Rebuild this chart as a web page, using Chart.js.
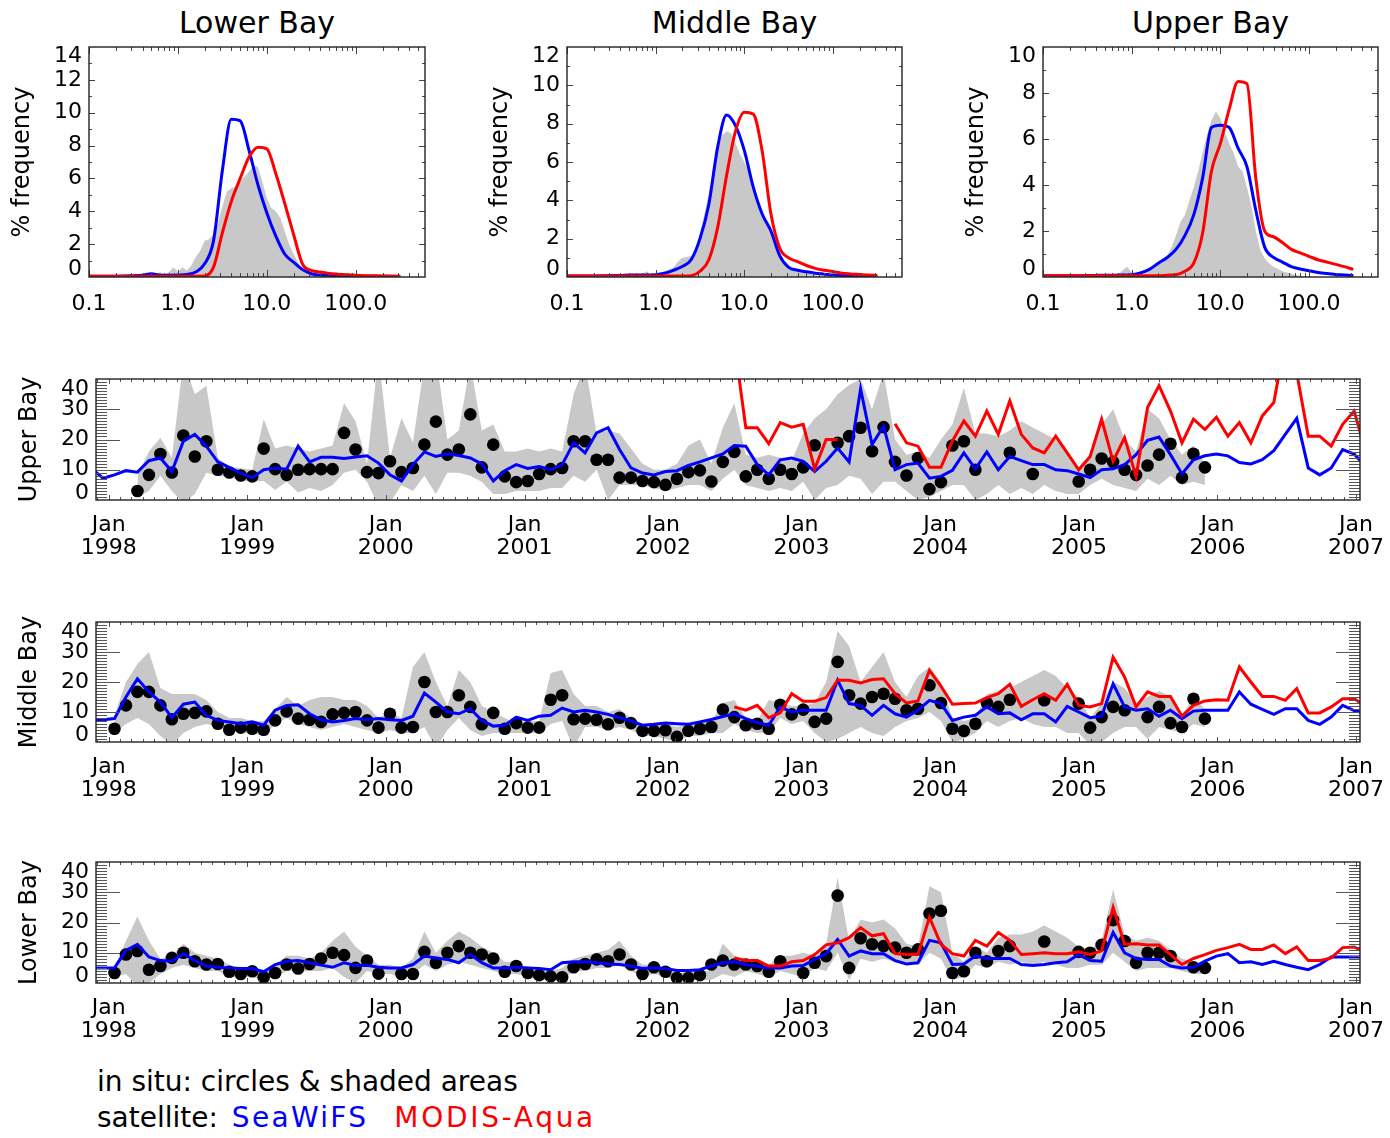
<!DOCTYPE html>
<html>
<head>
<meta charset="utf-8">
<script src="https://cdn.jsdelivr.net/npm/chart.js@4.4.1/dist/chart.umd.min.js"></script>
<style>
  html, body { margin: 0; padding: 0; background: #fff; }
  body { width: 1390px; height: 1138px; position: relative; overflow: hidden;
         font-family: "DejaVu Sans", sans-serif; color: #000; }
  canvas { position: absolute; }
  .panel-title { position: absolute; top: 5px; font-size: 30px; line-height: 36px;
                 white-space: nowrap; transform: translateX(-50%); }
  .legend { position: absolute; left: 97px; font-size: 28px; line-height: 36px; white-space: nowrap; }
  .sw { color: #0000ff; letter-spacing: 2.3px; margin-left: 5px; }
  .ma { color: #ff0000; letter-spacing: 2.7px; margin-left: 26px; }
</style>
</head>
<body>
<div class="panel-title" style="left:257px">Lower Bay</div>
<div class="panel-title" style="left:734.5px">Middle Bay</div>
<div class="panel-title" style="left:1210.5px">Upper Bay</div>
<div class="legend" style="top:1064px">in situ: circles &amp; shaded areas</div>
<div class="legend" style="top:1100px">satellite: <span class="sw">SeaWiFS</span><span class="ma">MODIS-Aqua</span></div>

<script>
// ---------------------------------------------------------------------------
// Chlorophyll frequency distributions (% frequency per log10 bin)
// Lines are sampled every 0.1 in log10(chl) from 0.1 to ~316 mg m^-3,
// the in situ histogram every 0.05 in log10(chl) from 0.5 to 100.
// ---------------------------------------------------------------------------
const LOWER_HIST_SEAWIFS = [0.05,0.05,0.05,0.05,0.06,0.08,0.1,0.2,0.1,0.1,
  0.12,0.15,0.3,0.8,2.2,6.5,9.6,9.5,7.7,5.6,
  3.9,2.5,1.4,0.9,0.45,0.2,0.12,0.1,0.08,0.07,
  0.06,0.05,0.05,0.05,0.05,0.05];
const LOWER_HIST_MODIS = [0.05,0.05,0.05,0.05,0.05,0.05,0.05,0.05,0.05,0.05,
  0.05,0.05,0.05,0.06,0.6,2.7,4.6,6.0,7.3,7.9,
  7.8,6.3,4.5,2.6,0.8,0.4,0.3,0.22,0.17,0.13,
  0.1,0.08,0.07,0.06,0.05,0.05];
const LOWER_HIST_INSITU = [0,0.1,0.3,0.1,0.3,0.6,0.3,0.6,0.4,0.7,
  1.2,1.6,2.2,2.3,2.6,3.3,4.3,5.2,5.4,5.5,
  5.8,6.1,6.4,6.8,6.7,5.8,4.8,4.2,4.0,3.6,
  2.8,2.0,1.4,0.9,0.5,0.25,0.1,0.05,0,0,
  0,0,0,0,0,0,0];

const MIDDLE_HIST_SEAWIFS = [0.05,0.05,0.05,0.05,0.06,0.08,0.08,0.1,0.1,0.1,
  0.12,0.2,0.35,0.55,0.9,2.0,3.8,6.8,8.45,7.9,
  6.6,4.7,3.3,2.4,1.1,0.5,0.35,0.27,0.2,0.15,
  0.1,0.08,0.07,0.06,0.05,0.05];
const MIDDLE_HIST_MODIS = [0.05,0.05,0.05,0.05,0.05,0.05,0.05,0.05,0.05,0.05,
  0.05,0.05,0.05,0.05,0.07,0.3,0.9,2.6,5.3,7.6,
  8.6,8.5,6.6,3.3,1.5,1.0,0.8,0.6,0.45,0.35,
  0.28,0.2,0.16,0.13,0.1,0.08];
const MIDDLE_HIST_INSITU = [0,0.02,0.05,0.15,0.3,0.1,0.15,0.2,0.3,0.4,
  0.5,0.8,1.0,1.05,1.1,1.5,2.3,3.3,4.4,5.8,
  6.7,7.4,7.6,7.5,7.0,6.4,6.0,5.5,4.7,4.0,
  3.4,2.9,2.3,1.9,1.3,0.8,0.5,0.35,0.3,0.25,
  0.2,0.15,0.1,0.07,0.05,0.02,0];

const UPPER_HIST_SEAWIFS = [0.05,0.05,0.05,0.05,0.05,0.06,0.07,0.08,0.08,0.09,
  0.1,0.18,0.33,0.6,0.85,1.2,1.8,2.7,4.3,6.5,
  6.6,6.5,5.6,4.8,2.9,1.3,0.85,0.65,0.45,0.35,
  0.27,0.2,0.15,0.11,0.09,0.07];
const UPPER_HIST_MODIS = [0.05,0.05,0.05,0.05,0.05,0.05,0.05,0.05,0.05,0.05,
  0.05,0.05,0.05,0.05,0.08,0.1,0.25,0.6,1.9,4.6,
  5.8,7.3,8.5,8.4,4.3,2.0,1.75,1.5,1.2,1.05,
  0.9,0.75,0.65,0.55,0.45,0.33];
const UPPER_HIST_INSITU = [0,0.02,0.05,0.1,0.3,0.45,0.2,0.2,0.25,0.3,
  0.4,0.5,0.6,0.7,0.9,1.3,1.8,2.4,2.7,3.3,
  3.9,4.6,5.4,6.2,6.8,7.2,6.9,6.3,5.8,5.4,
  4.8,4.6,3.9,3.1,2.0,1.2,0.8,0.6,0.45,0.35,
  0.25,0.2,0.15,0.1,0.05,0.02,0];

const HIST_X_TICKS = [0.1, 1, 10, 100];

// ---------------------------------------------------------------------------
// Monthly composites (chl, mg m^-3). Satellite series run from the Nov 1997
// composite (index -2) to the Jan 2007 composite (index 109); MODIS-Aqua starts
// with the Jul 2002 composite (index 54); in situ values cover indices 0..95.
// ---------------------------------------------------------------------------
const UPPER_SEAWIFS = [
  10.5, 7.2,
  8.3, 9.7, 9.2, 13, 13.9, 9.4, 19.4, 21.7, 17.8, 12.6, 10.8, 8.9,
  7.4, 10, 10.6, 10.2, 17.8, 12.6, 14.1, 14.1, 13.7, 14.2, 14.6, 12.2,
  8.3, 6.3, 11.7, 15.9, 14.4, 15.3, 14.7, 13.9, 11.9, 6.3, 9.7, 11.7,
  10.4, 11.1, 10, 11.7, 18.9, 15.6, 22.2, 23.9, 16.7, 10.6, 8.9, 8.3,
  9.4, 9.7, 11.4, 12.6, 13.9, 15.2, 18, 17.8, 11.7, 8.3, 13.3, 13.9,
  12.8, 9.4, 12.8, 17.2, 12.6, 36.7, 18.3, 24.4, 10, 11.7, 12.2, 7.2,
  7.8, 9.8, 15.6, 10.3, 15.9, 10, 14.4, 13, 11.7, 11.7, 10, 9.7,
  8.6, 7.4, 10, 10.3, 11.7, 15, 19.7, 20.8, 15, 8.6, 13.3, 14.6,
  15.2, 14.6, 12.4, 11.9, 13.3, 16.3, 21.7, 27, 10.6, 8.3, 10.6, 16.7,
  15.2, 11
];
const UPPER_MODIS = [
  52, 23.9, 23.9, 18.6, 25.6, 24.1,
  25, 10.2, 20, 20, null, null, null, null, 25.2, 18.9, 17.8, 10.8,
  10.8, 19.5, 26.1, 21.1, 29.4, 21.7, 32.8, 21.7, 17.2, 15.6, 21.1, 15.6,
  10, 14.4, 26.7, 12.8, 20.6, 7.8, 30.6, 37.8, 29.4, 18.9, 26.7, 23.3,
  27.4, 21.1, 25.6, 18.9, 27.8, 32.2, 53, 42, 21.1, 21.1, 17.8, 25,
  29.4, 16
];
const UPPER_INSITU = [
  null, null, 3.0, 8.3, 15.2, 9.1, 21.3, 14.4, 19.4, 10, 9.1, 8.1,
  7.8, 17, 10.2, 8.3, 10, 10.2, 10.2, 10.2, 22.2, 16.7, 9.2, 8.9,
  12.8, 9.2, 10.6, 18.3, 25.9, 15, 16.7, 28.3, 10.8, 18.3, 7.8, 5.9,
  6.3, 8.6, 10.2, 10.6, 19.4, 19.4, 13.3, 13.3, 7.4, 7.4, 6.3, 5.9,
  5, 7, 9.2, 9.8, 6.1, 12.6, 15.9, 7.8, 10, 7, 10, 8.6,
  10.8, 18.1, null, 18.9, 21.1, 23.9, 16.1, 24.1, 12.6, 8.1, 13.9, 3.6,
  5.9, 18, 19.4, 10, null, null, 15.6, null, 8.6, null, null, null,
  6.1, 10, 13.7, 12.6, 10, 8.3, 11.4, 15, 18.6, 7.4, 15.3, 10.8
];
const UPPER_INSITU_MAX = [
  null, null, 8, 16, 20.6, 14, 46, 35, 37.8, 14, 11, 10.5,
  10, 26.7, 17, 18, 17, 16, 17, 18, 32, 26, 12, 48,
  14, 27, 19, 45, 48, 20, 23, 45, 23, 25, 16, 16,
  17, 16, 17, 16, 35, 45, 22, 23, 22, 17, 12, 10,
  10, 12, 18, 20, 12, 24, 32, 15, 14, 15, 14, 13,
  22, 27, 30, 35, 38, 40, 30, 42, 20, 15, 16, 14,
  20, 25, 37, 22, 22, 21, 23, 26, 24, 22, 20, 16,
  10, 14, 25, 30, 20, 16, 30, 27, 20, 15, 18, 12
];
const UPPER_INSITU_MIN = [
  null, null, 1, 3, 8, 3, -1, 2, 9, 8, 7.5, 6.5,
  6, 6.3, 3.3, 6, 2.5, 4, 3, 5, 9, 10, 6, -2,
  -1, 5, 3, 8, 2, 9, 9, 8, 6, 2, 2, 3,
  3, 3, 4, 4, 8, 6, 10, 0, 5, 5, 5, 4,
  3, 4, 5, 5, 3, 7, 10, 5, 4, 3, 4, 3,
  6, 0, 4, 5, 8, 7, 2, 6, 6, 3, 0, 1,
  3, 5, 5, 0, 2, 5, 2, 4, 2, 5, 3, 2,
  2, 5, 7, 5, 4, 3, 7, 5, 8, 5, 6, 5
];

const MIDDLE_SEAWIFS = [
  7.4, 7.4,
  7.8, 15, 21.1, 16.7, 13.3, 8.1, 12.6, 13.3, 8.9, 7.2, 6.7, 6.1,
  6.7, 5.6, 10.6, 12.2, 12.4, 9.4, 7.4, 6.7, 7.2, 7.8, 7.4, 7.8,
  7.4, 7.2, 8.6, 16.3, 13.3, 10, 9.4, 11.1, 7.2, 5.3, 5.6, 8.3,
  7.2, 8.6, 8.9, 11.3, 10, 10.6, 10, 9.2, 8.1, 7, 5.6, 5.9,
  6.3, 6.1, 5.9, 6.7, 7.5, 8.5, 9.4, 7.8, 6.5, 5.6, 11.7, 10,
  10.6, 10.6, 10.6, 20.6, 12.8, 12.2, 8.9, 12.2, 9.4, 8.3, 10.6, 13.9,
  12.8, 7.2, 8.3, 8.9, 11.7, 9.4, 9.7, 7.4, 9.4, 9.4, 6.7, 11.9,
  10, 8.1, 8.6, 19.4, 11.7, 10.6, 11.1, 8.6, 10.6, 7.8, 10.3, 10.6,
  10.6, 10.6, 16.7, 12.6, 10.9, 9.2, 11.1, 11.1, 7.2, 5.9, 8.3, 12.2,
  10.5, 9.5
];
const MIDDLE_MODIS = [
  11.7, 10.6, 12.2, 8.1, 9.7, 16.1,
  13.6, 13.6, 14.8, 20.6, 20.6, 19.7, 20.8, 21.1, 16.1, 13, 13.7, 23.9,
  18.6, 12.6, 12.8, 13, 14.8, 16.1, 19.2, 11.9, 14.1, 16.1, 13.9, 19.2,
  12.2, 11.7, 12.8, 28.3, 21.7, 11.7, 16.7, 15.2, 15.2, 8.6, 12.2, 13.7,
  14.1, 13.9, 25, 20, 15.2, 15.2, 13.9, 17.8, 9.7, 9.7, 11.7, 14.4,
  14.4, 12
];
const MIDDLE_INSITU = [
  4.4, 12.2, 16.7, 16.7, 12.2, 7.6, 9.4, 9.7, 10.2, 6.1, 4.1, 4.8,
  4.4, 4.1, 7.2, 10.2, 7.8, 7.4, 6.7, 9.2, 9.7, 10, 7.2, 4.8,
  9.4, 4.8, 5, 20, 10, 10, 15.6, 11.7, 5.9, 9.7, 4.4, 6.3,
  4.8, 4.8, 14.1, 15.6, 7.6, 7.8, 7.4, 5.9, 8.1, 6.3, 3.7, 3.7,
  3.9, 1.7, 3.7, 4.4, 5, 10.8, 8.3, 5.6, 6.1, 4.4, 12.4, 9.2,
  10.8, 6.7, 7.8, 26.7, 15.6, 12.8, 15, 16.1, 14.4, 10.6, 11.1, 18.9,
  13, 4.4, 3.7, 6.1, 13, 11.7, 14.1, null, null, 13.9, null, null,
  12.8, 4.8, 8.3, 11.7, 10.6, null, 8.3, 11.7, 6.3, 5, 14.4, 7.8
];
const MIDDLE_INSITU_MAX = [
  9, 20, 26, 30, 18, 16, 16, 16, 14, 10, 8, 8,
  7, 7, 11, 15, 12, 14, 15, 15, 14, 14, 12, 8,
  10, 8, 25, 30, 20, 12, 24, 20, 12, 10, 8, 6,
  7, 7, 23, 24, 16, 12, 12, 10, 11, 8, 6, 6,
  6, 5, 6, 7, 7, 13, 14, 8, 7, 14, 13, 12,
  12, 13, 20, 37, 32, 20, 25, 30, 20, 15, 22, 25,
  20, 8, 7, 8, 16, 17, 18, 20, 22, 24, 22, 18,
  15, 8, 13, 20, 18, 13, 15, 17, 15, 9, 15, 11
];
const MIDDLE_INSITU_MIN = [
  3, 6, 8, 6, 2, -1, 3, 5, 6, 5, 4, 3,
  3, 2, 6, 8, 6, 5, 4, 5, 6, 5, 4, 3,
  4, 3, 3, 5, -2, 4, 8, 4, 2, 3, 3, 3,
  3, 3, 6, 7, -2, 5, 5, 4, 5, 4, 2, 2,
  1, 0, 2, 2, 3, 3, 6, 4, 3, 3, 8, 6,
  7, 3, 0, 1, 3, 5, 3, 2, 5, 7, 8, 10,
  7, 0, 1, 3, 7, 5, 7, 8, 6, 5, 5, 3,
  3, -1, 0, 3, 5, 5, 1, 5, 4, 3, 6, 5
];

const LOWER_SEAWIFS = [
  5, 5,
  5, 10.8, 12.8, 8.6, 7.4, 7.2, 9.7, 7.4, 5.6, 5.2, 5, 4.8,
  4.8, 3.7, 6.1, 7.2, 7.4, 6.7, 5.9, 5.2, 6.7, 5.8, 5.9, 5.2,
  5, 5, 6.1, 8.9, 8.3, 7.8, 6.7, 9.4, 6.7, 5, 5, 5.2,
  5, 4.8, 4.4, 6.7, 7, 7, 6.7, 6.3, 6.1, 5.6, 4.8, 5,
  4.8, 4.1, 4.1, 4.4, 5.6, 6.7, 7, 6.1, 5.6, 5, 5, 5.6,
  5.8, 7.8, 9.7, 14.4, 8.9, 10.6, 9.7, 9.7, 7.4, 6.3, 6.7, 14.1,
  13.3, 6.1, 6.3, 8.9, 8.1, 8.1, 8.1, 6.1, 5.8, 6.1, 6.7, 7,
  9.4, 7.4, 7.2, 16.7, 10, 8.1, 7.8, 7.8, 5.6, 5, 5.2, 7.2,
  8.9, 9.7, 6.7, 7, 6.1, 7.2, 6.1, 5.2, 4.4, 6.1, 8.6, 8.6,
  8.6, 8.6
];
const LOWER_MODIS = [
  8.3, 7.4, 7.4, 5.6, 5.6, 7,
  7.4, 9.4, 12.6, 13.3, 15, 18.3, 15.6, 16.3, 9.7, 9.4, 9.4, 21.7,
  12.8, 9.7, 8.9, 14.1, 12.2, 16.7, 14.1, 9.4, 9.7, 10, 9.7, 9.7,
  10.3, 9.4, 10.6, 25, 12.8, 13, 12.6, 12.6, 9.4, 6.1, 8.1, 9.4,
  10.8, 11.7, 12.8, 11.1, 11.1, 12.6, 9.7, 11.9, 7.4, 7.4, 8.3, 11.7,
  11.9, 10
];
const LOWER_INSITU = [
  3.3, 9.4, 10.6, 4.4, 5.6, 8.3, 10, 7.2, 6.1, 6.3, 3.7, 3,
  3.9, 1.9, 3.3, 6.1, 4.8, 6.3, 8.1, 10, 9.2, 5, 7.4, 3.1,
  null, 3, 3, 10.3, 6.7, 10, 12.2, 10, 9.4, 8.1, 3.7, 5.6,
  3.3, 2.6, 2.2, 1.9, 5.2, 6.3, 7.8, 7.2, 9.4, 6.1, 3, 5.2,
  3.7, 1.7, 1.7, 2.6, 6.1, 7.4, 6.1, 6.1, 5.6, 3.7, 7.2, null,
  3.3, 6.7, 8.9, 28.9, 5, 14.8, 12.8, 12.2, 11.7, 10, 11.1, 23,
  23.9, 3.3, 3.9, 10, 7.2, 10.6, 12.2, null, null, 13.7, null, null,
  10.3, 10, 12.6, 20.8, 13.9, 6.7, 10, 10, 8.9, null, 5.2, 5
];
const LOWER_INSITU_MAX = [
  5, 14, 22, 14, 8, 9, 13, 10, 9, 8, 6, 5,
  5, 4, 6, 9, 9, 8, 10, 14, 17, 12, 9, 6,
  6, 5, 8, 17, 10, 14, 17, 15, 12, 10, 7, 7,
  5, 4, 4, 5, 8, 9, 10, 11, 14, 9, 6, 6,
  5, 3, 4, 4, 4, 13, 9, 8, 8, 6, 9, 9,
  10, 9, 13, 35, 14, 21, 20, 21, 18, 13, 12, 32,
  30, 10, 7, 12, 10, 15, 16, 16, 17, 19, 17, 15,
  12, 11, 14, 31, 16, 14, 15, 14, 11, 8, 7, 6
];
const LOWER_INSITU_MIN = [
  2, 3, -1, 0, 3, 5, 6, 5, 4, 4, 2, 2,
  2, 1, 2, 4, 4, 4, 4, 5, 2, 0, 4, 3,
  3, 2, 3, 6, 4, 6, 7, 6, 5, 4, 3, 3,
  2, 1, 1, 1, 4, 4, 5, 5, 6, 4, 2, 3,
  2, 1, 1, 1, 1, 3, 2, 4, 3, 2, 4, 3,
  2, 5, 4, 10, 1, 8, 7, 8, 7, 7, 6, 10,
  8, 1, 2, 6, 5, 7, 6, 7, 6, 7, 6, 5,
  5, 6, 6, 10, 7, 4, 5, 5, 5, 4, 3, 3
];

const TS_Y_TICKS = [0, 10, 20, 30, 40];
const TS_YEARS = [1998, 1999, 2000, 2001, 2002, 2003, 2004, 2005, 2006, 2007];

// ---------------------------------------------------------------------------
const FONT = '"DejaVu Sans", sans-serif';
Chart.defaults.font.family = FONT;
Chart.defaults.color = '#000';

// time axis in days since 1 Jan 1998
const DAY0 = Date.UTC(1998, 0, 1);
const dayOf = (y, m) => (Date.UTC(y, m, 1) - DAY0) / 86400000;
const X_MIN = -33.5, X_MAX = 3297.6;
// composite index -> centre day of the composite period
const compositeDay = i => 15.2 + 30.25 * i;

const YEAR_DAYS = TS_YEARS.map(y => dayOf(y, 0));
const MONTH_MARKS = [];
for (let y = 1997; y <= 2007; y++) {
  for (let m = 0; m < 12; m++) {
    const d = dayOf(y, m);
    if (d > X_MIN && d < X_MAX) MONTH_MARKS.push({ v: d, len: m === 0 ? 5 : 3 });
  }
}
const TS_Y_MARKS = [];
for (let v = 1; v < 40; v++) TS_Y_MARKS.push({ v, len: v % 10 === 0 ? 24 : 11 });

// fixed axis boxes: no extra room reserved for overhanging labels
const fixWidth = w => s => { s.width = w; s.paddingTop = s.paddingBottom = s.paddingLeft = s.paddingRight = 0; };
const fixHeight = h => s => { s.height = h; s.paddingTop = s.paddingBottom = s.paddingLeft = s.paddingRight = 0; };

// inward tick marks on all four sides plus the box
const frameTicks = {
  id: 'frameTicks',
  afterDatasetsDraw(chart, args, o) {
    if (!o || !o.xMarks) return;
    const { ctx, chartArea: a } = chart;
    const xs = chart.scales.x, ys = chart.scales.y;
    ctx.save();
    ctx.strokeStyle = o.tickColor || '#333';
    ctx.lineWidth = 1;
    ctx.beginPath();
    for (const t of o.xMarks) {
      const px = Math.round(xs.getPixelForValue(t.v)) + 0.5;
      ctx.moveTo(px, a.bottom); ctx.lineTo(px, a.bottom - t.len);
      ctx.moveTo(px, a.top); ctx.lineTo(px, a.top + t.len);
    }
    for (const t of o.yMarks) {
      const py = Math.round(ys.getPixelForValue(t.v)) + 0.5;
      ctx.moveTo(a.left, py); ctx.lineTo(a.left + t.len, py);
      ctx.moveTo(a.right, py); ctx.lineTo(a.right - t.len, py);
    }
    ctx.stroke();
    ctx.strokeStyle = '#222';
    ctx.lineWidth = 1.4;
    ctx.strokeRect(a.left, a.top, a.right - a.left, a.bottom - a.top);
    ctx.restore();
  }
};

// pull the end labels of the value axis inside the box
const edgeLabels = {
  id: 'edgeLabels',
  beforeDraw(chart, args, o) {
    if (!o || !o.shift) return;
    const s = chart.scales.y;
    const items = s.getLabelItems();
    if (!items || !items.length || items._shifted) return;
    const move = (it, dy) => {
      const t = (it.options && it.options.translation) || it.translation;
      if (t) t[1] += dy;
    };
    move(items[0], -o.shift[0]);
    move(items[items.length - 1], o.shift[1]);
    items._shifted = true;
  }
};
Chart.register(frameTicks, edgeLabels);

function addCanvas(left, top, w, h) {
  const c = document.createElement('canvas');
  c.width = w; c.height = h;
  c.style.left = left + 'px'; c.style.top = top + 'px';
  c.style.width = w + 'px'; c.style.height = h + 'px';
  document.body.appendChild(c);
  return c;
}

// ---------------------------------------------------------------------------
// Histogram panels
// ---------------------------------------------------------------------------
const LINE_EXP = LOWER_HIST_SEAWIFS.map((_, k) => -1 + 0.1 * k);
const GRAY_EXP = LOWER_HIST_INSITU.map((_, k) => -0.3 + 0.05 * k);
const toHist = (exps, vals) => vals.map((v, k) => ({ x: Math.pow(10, exps[k]), y: v }));

const HIST_X_MARKS = [];
for (let n = -1; n <= 2; n++) {
  for (let k = 1; k <= 9; k++) {
    const v = k * Math.pow(10, n);
    if (v < 600) HIST_X_MARKS.push({ v, len: k === 1 ? 7 : 4 });
  }
}

function histChart(left, width, padRight, yMax, gray, blue, red) {
  const canvas = addCanvas(left, 40, width, 300);
  const yMarks = [];
  for (let v = 1; v < yMax; v++) yMarks.push({ v, len: v % 2 === 0 ? 6 : 3 });
  const yTicks = [];
  for (let v = 0; v <= yMax; v += 2) yTicks.push(v);
  return new Chart(canvas, {
    type: 'line',
    data: {
      datasets: [
        { label: 'MODIS-Aqua', data: toHist(LINE_EXP, red), borderColor: '#ff0000', borderWidth: 3,
          pointRadius: 0, cubicInterpolationMode: 'monotone', fill: false, order: 0 },
        { label: 'SeaWiFS', data: toHist(LINE_EXP, blue), borderColor: '#0000ff', borderWidth: 3,
          pointRadius: 0, cubicInterpolationMode: 'monotone', fill: false, order: 1 },
        { label: 'in situ', data: toHist(GRAY_EXP, gray), borderColor: 'rgba(0,0,0,0)', borderWidth: 1,
          backgroundColor: '#c8c8c8', pointRadius: 0, tension: 0, fill: 'origin', order: 2 }
      ]
    },
    options: {
      responsive: false, animation: false, events: [], devicePixelRatio: 1,
      layout: { autoPadding: false, padding: { top: 7, right: padRight, left: 0, bottom: 0 } },
      plugins: {
        legend: { display: false }, tooltip: { enabled: false },
        frameTicks: { xMarks: HIST_X_MARKS, yMarks, tickColor: '#444' },
        edgeLabels: { shift: [8, 9] }
      },
      scales: {
        x: {
          type: 'logarithmic', min: 0.1, max: 600,
          grid: { display: false, drawTicks: false }, border: { display: false },
          afterBuildTicks: s => { s.ticks = HIST_X_TICKS.map(v => ({ value: v })); },
          ticks: { autoSkip: false, maxRotation: 0, padding: 14, color: '#000',
                   font: { family: FONT, size: 22 }, callback: v => Number(v).toFixed(1) },
          afterFit: fixHeight(63)
        },
        y: {
          type: 'linear', min: 0, max: yMax,
          grid: { display: false, drawTicks: false }, border: { display: false },
          afterBuildTicks: s => { s.ticks = yTicks.map(v => ({ value: v })); },
          ticks: { padding: 7, color: '#000', font: { family: FONT, size: 22 } },
          title: { display: true, text: '% frequency', color: '#000',
                   font: { family: FONT, size: 24, lineHeight: 1.2 }, padding: { top: 8.6, bottom: 0 } },
          afterFit: fixWidth(89)
        }
      }
    }
  });
}

histChart(0, 440, 15, 14, LOWER_HIST_INSITU, LOWER_HIST_SEAWIFS, LOWER_HIST_MODIS);
histChart(478, 440, 16, 12, MIDDLE_HIST_INSITU, MIDDLE_HIST_SEAWIFS, MIDDLE_HIST_MODIS);
histChart(954, 436, 12, 10, UPPER_HIST_INSITU, UPPER_HIST_SEAWIFS, UPPER_HIST_MODIS);

// ---------------------------------------------------------------------------
// Time-series panels
// ---------------------------------------------------------------------------
const toSeries = (vals, firstIndex) =>
  vals.map((v, k) => ({ x: compositeDay(firstIndex + k), y: v }));

function timeChart(top, frameH, name, seawifs, modis, insitu, inMax, inMin) {
  const canvas = addCanvas(0, top, 1390, 10 + frameH + 70);
  return new Chart(canvas, {
    type: 'line',
    data: {
      datasets: [
        { label: 'MODIS-Aqua', data: toSeries(modis, 54), borderColor: '#ff0000', borderWidth: 3,
          pointRadius: 0, tension: 0, fill: false, spanGaps: false, clip: 0, order: 0 },
        { label: 'SeaWiFS', data: toSeries(seawifs, -2), borderColor: '#0000ff', borderWidth: 3,
          pointRadius: 0, tension: 0, fill: false, clip: 0, order: 1 },
        { label: 'in situ', data: toSeries(insitu, 0), showLine: false, pointRadius: 6.3,
          pointBackgroundColor: '#000', pointBorderWidth: 0, pointBorderColor: '#000', order: 2 },
        { label: 'in situ max', data: toSeries(inMax, 0), borderColor: 'rgba(0,0,0,0)', borderWidth: 1,
          backgroundColor: '#c8c8c8', pointRadius: 0, tension: 0, fill: '+1', order: 3 },
        { label: 'in situ min', data: toSeries(inMin, 0), borderColor: 'rgba(0,0,0,0)', borderWidth: 1,
          pointRadius: 0, tension: 0, fill: false, order: 4 }
      ]
    },
    options: {
      responsive: false, animation: false, events: [], devicePixelRatio: 1,
      layout: { autoPadding: false, padding: { top: 10, right: 30, left: 0, bottom: 0 } },
      plugins: {
        legend: { display: false }, tooltip: { enabled: false },
        frameTicks: { xMarks: MONTH_MARKS, yMarks: TS_Y_MARKS, tickColor: '#555' },
        edgeLabels: { shift: [7, 10] }
      },
      scales: {
        x: {
          type: 'linear', min: X_MIN, max: X_MAX,
          grid: { display: false, drawTicks: false }, border: { display: false },
          afterBuildTicks: s => { s.ticks = YEAR_DAYS.map(v => ({ value: v })); },
          ticks: {
            autoSkip: false, maxRotation: 0, padding: 14, color: '#000',
            font: { family: FONT, size: 22, lineHeight: 1.05 },
            callback: v => ['Jan', String(TS_YEARS[YEAR_DAYS.indexOf(v)])]
          },
          afterFit: fixHeight(70)
        },
        y: {
          type: 'linear', min: 0, max: 40,
          grid: { display: false, drawTicks: false }, border: { display: false },
          afterBuildTicks: s => { s.ticks = TS_Y_TICKS.map(v => ({ value: v })); },
          ticks: { padding: 7, color: '#000', font: { family: FONT, size: 22 } },
          title: { display: true, text: name, color: '#000',
                   font: { family: FONT, size: 24, lineHeight: 1.2 }, padding: { top: 15.6, bottom: 0 } },
          afterFit: fixWidth(96)
        }
      }
    }
  });
}

timeChart(369, 121, 'Upper Bay', UPPER_SEAWIFS, UPPER_MODIS, UPPER_INSITU, UPPER_INSITU_MAX, UPPER_INSITU_MIN);
timeChart(612, 120, 'Middle Bay', MIDDLE_SEAWIFS, MIDDLE_MODIS, MIDDLE_INSITU, MIDDLE_INSITU_MAX, MIDDLE_INSITU_MIN);
timeChart(852, 121, 'Lower Bay', LOWER_SEAWIFS, LOWER_MODIS, LOWER_INSITU, LOWER_INSITU_MAX, LOWER_INSITU_MIN);
</script>
</body>
</html>
